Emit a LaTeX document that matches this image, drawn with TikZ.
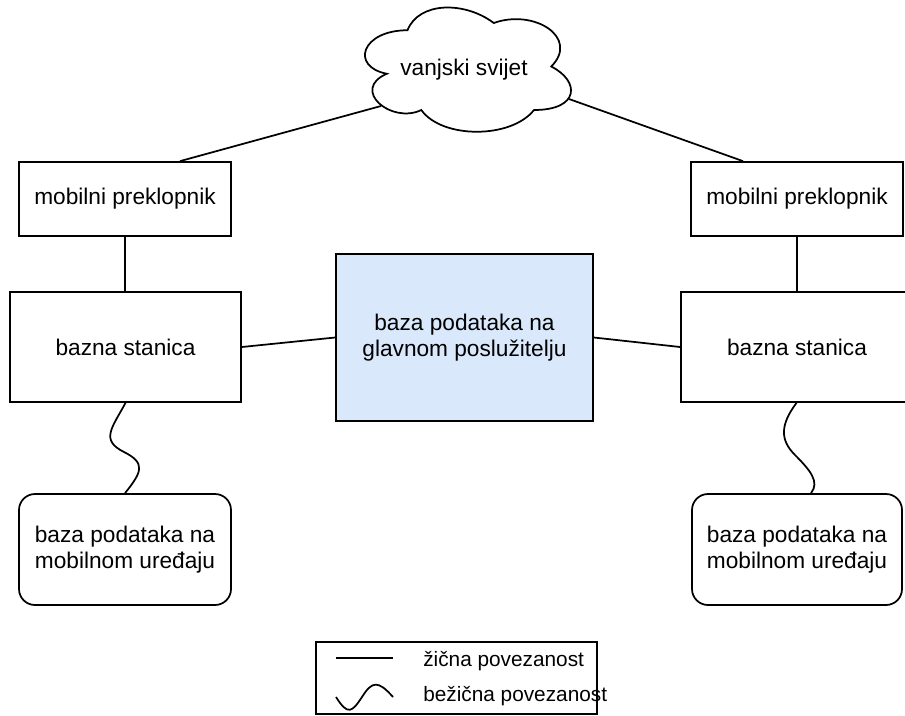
\documentclass[tikz,border=0pt]{standalone}
\usepackage{fontspec}
\setmainfont{Liberation Sans}
\usetikzlibrary{calc}
\definecolor{cenfill}{HTML}{DAE8FC}
\begin{document}
\begin{tikzpicture}[x=0.75pt,y=-0.75pt,
  txt/.style={font=\fontsize{17}{20}\selectfont, align=center},
  box/.style={draw=black, line width=1.3pt, inner sep=0pt, txt},
  rbox/.style={box, rounded corners=12pt},
  sz/.style 2 args={minimum width=#1*0.75pt, minimum height=#2*0.75pt},
  conn/.style={draw=black, line width=1.3pt},
  lbl/.style={inner sep=0pt, font=\fontsize{15.6}{18}\selectfont}]
\useasboundingbox (0,0) rectangle (905,715);

% cloud
\draw[line width=1.3pt, fill=white]
  (407.5,30.25) .. controls (361.5,30.25) and (350,66.5) .. (386.8,73.75)
  .. controls (350,89.7) and (391.4,124.5) .. (421.3,110)
  .. controls (442,139) and (511,139) .. (534,110)
  .. controls (580,110) and (580,81) .. (551.25,66.5)
  .. controls (580,37.5) and (534,8.5) .. (493.75,23)
  .. controls (465,1.25) and (419,1.25) .. (407.5,30.25) -- cycle;
\node[txt, inner sep=0pt] (cloud) at (464,70) {vanjski svijet};
\coordinate (cL) at (381,106);
\coordinate (cR) at (569,99);

% boxes
\node[box, sz={212}{74}] (mpL) at (125,199) {mobilni preklopnik};
\node[box, sz={212}{74}] (mpR) at (797,199) {mobilni preklopnik};
\node[box, sz={231}{110}] (bzL) at (125.5,347) {bazna stanica};
\node[box, sz={231}{110}, text width=0pt] (bzR) at (796.5,347) {};
\node[txt] (bzRt) at (797,347) {bazna stanica};
\node[box, sz={257}{167}, fill=cenfill] (cen) at (464.5,337.5) {baza podataka na\\glavnom poslužitelju};
\node[rbox, sz={212}{111}] (mdL) at (125,549.5) {baza podataka na\\mobilnom uređaju};
\node[rbox, sz={210}{111}] (mdR) at (797,549.5) {baza podataka na\\mobilnom uređaju};

% wired connections
\draw[conn] (cL) -- ($(mpL.north)+(55,0)$);
\draw[conn] (cR) -- ($(mpR.north)+(-54,0)$);
\draw[conn] (mpL.south) -- (mpL.south |- bzL.north);
\draw[conn] (mpR.south) -- (mpR.south |- bzR.north);
\draw[conn] (bzL.east) -- (cen.west);
\draw[conn] (cen.east) -- (bzR.west);

% wireless connections
\draw[conn] (bzL.south) .. controls (112,428) and (100,440) .. (124,452)
  .. controls (146,463) and (142,472) .. (mdL.north);
\draw[conn] (bzR.south) .. controls (780,425) and (780,440) .. (795,455)
  .. controls (810,470) and (820,482) .. ($(mdR.north)+(14,0)$);

% legend
\node[draw=black, line width=1.3pt, sz={281}{72}] (legend) at (456.5,678) {};
\coordinate (w1a) at (336,658);
\coordinate (w1b) at (393,658);
\draw[conn] (w1a) -- (w1b);
\node[lbl, anchor=west] (lg1) at (423,661) {žična povezanost};
\coordinate (w2a) at (336,697);
\coordinate (w2b) at (393,697);
\draw[conn] (w2a) .. controls (348,716) and (352,712) .. (362,697)
  .. controls (372,681) and (378,680) .. (w2b);
\node[lbl, anchor=west] (lg2) at (423,696) {bežična povezanost};
\end{tikzpicture}
\end{document}
